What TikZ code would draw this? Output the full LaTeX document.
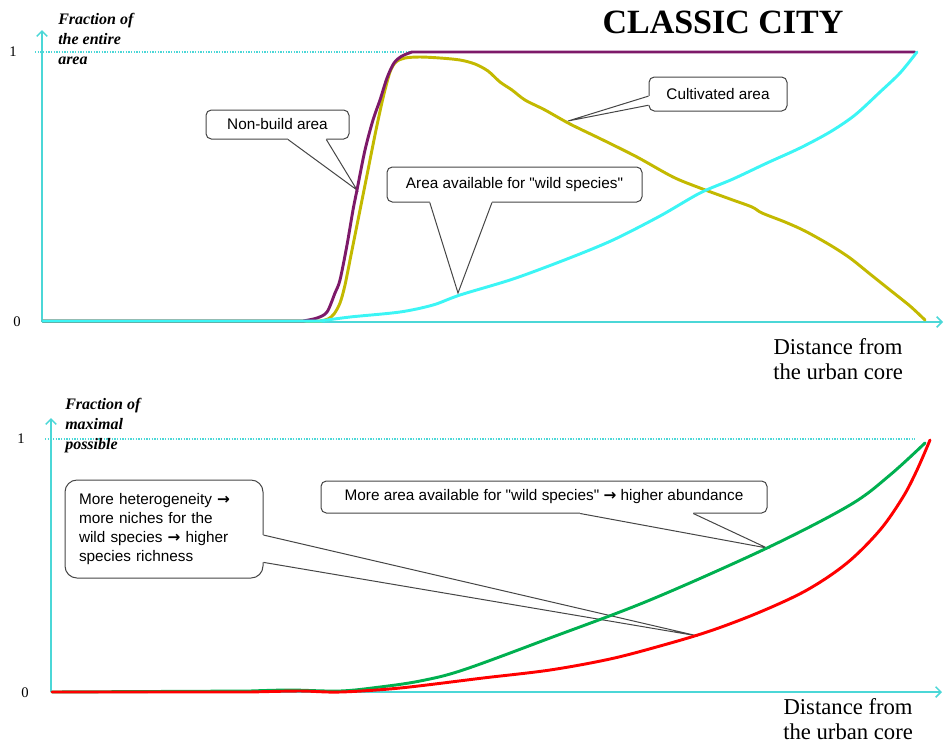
\documentclass[tikz,border=0pt]{standalone}
\usepackage{fontspec}
\setmainfont{Liberation Serif}
\newfontfamily\calloutfont{Liberation Sans}
\newfontfamily\arrowfont{DejaVu Sans}
\newcommand{\barrow}{{\arrowfont\bfseries →}}
\usetikzlibrary{arrows.meta,calc}
\definecolor{axisc}{RGB}{75,215,215}
\definecolor{cyanc}{RGB}{60,245,245}
\definecolor{purplec}{RGB}{125,25,105}
\definecolor{yellowc}{RGB}{195,185,0}
\definecolor{greenc}{RGB}{0,176,80}
\definecolor{redc}{RGB}{255,0,0}
\definecolor{boxc}{RGB}{70,70,70}
\begin{document}
\begin{tikzpicture}[x=0.75pt,y=-0.75pt,
  axisline/.style={draw=axisc, line width=1.1pt, -{Straight Barb[length=4pt,width=8pt]}},
  guide/.style={draw=axisc, line width=0.9pt, dash pattern=on 1pt off 1pt},
  callout/.style={draw=boxc, fill=white, line width=0.75pt, rounded corners=4pt, inner sep=0pt,
    font=\calloutfont\fontsize{11.5}{14.25}\selectfont, align=center},
  pointer/.style={draw=boxc, line width=0.75pt},
  curve/.style={line width=2.2pt, line join=round, line cap=round},
  axlabel/.style={font=\bfseries\itshape\fontsize{12}{15}\selectfont, align=left, anchor=north west, inner sep=0pt},
  distlabel/.style={font=\fontsize{17}{19}\selectfont, align=center, anchor=north west, inner sep=0pt},
  ticklabel/.style={font=\fontsize{11}{13}\selectfont, inner sep=0pt}
]
\useasboundingbox (0,0) rectangle (945,744);

% ---------- title ----------
\node[font=\bfseries\fontsize{25.5}{30}\selectfont, anchor=base] (title) at (723,33) {CLASSIC CITY};

% ---------- top chart axes ----------
\coordinate (o1) at (42,322);
\coordinate (y1) at (42,30);
\coordinate (x1) at (943,322);
\coordinate (g1a) at (35,52);
\coordinate (g1b) at (915,52);
\draw[guide] (g1a) -- (g1b);
\draw[axisline] (o1) -- (y1);
\draw[axisline] (o1) -- (x1);
\node[ticklabel] (one1) at (13,52) {1};
\node[ticklabel] (zero1) at (17,322) {0};
\node[axlabel] (ylab1) at (58,13) {Fraction of\\the entire\\area};
\node[distlabel] (xlab1) at (773,338) {Distance from\\the urban core};

% ---------- top callouts ----------
\node[callout, minimum width=107.25pt, minimum height=21.75pt] (nb) at (277.5,124.5) {Non-build area};
\coordinate (nbA) at ($(nb.south west)!0.573!(nb.south east)$);
\coordinate (nbB) at ($(nb.south west)!0.839!(nb.south east)$);
\coordinate (nbT) at (357,190);
\fill[white] ([yshift=1.2pt]nbA) -- (nbA) -- (nbT) -- (nbB) -- ([yshift=1.2pt]nbB) -- cycle;
\draw[pointer] (nbA) -- (nbT) -- (nbB);

\node[callout, minimum width=191.25pt, minimum height=26.25pt] (aw) at (514.5,184.5) {Area available for "wild species"};
\coordinate (awA) at ($(aw.south west)!0.169!(aw.south east)$);
\coordinate (awB) at ($(aw.south west)!0.412!(aw.south east)$);
\coordinate (awT) at (458,293);
\fill[white] ([yshift=1.2pt]awA) -- (awA) -- (awT) -- (awB) -- ([yshift=1.2pt]awB) -- cycle;
\draw[pointer] (awA) -- (awT) -- (awB);

\node[callout, minimum width=103.5pt, minimum height=25.5pt] (cu) at (718,94) {Cultivated area};
\coordinate (cuA) at ($(cu.north west)!0.56!(cu.south west)$);
\coordinate (cuB) at ($(cu.north west)!0.82!(cu.south west)$);
\coordinate (cuT) at (568,121);
\fill[white] ([xshift=1.2pt]cuA) -- (cuA) -- (cuT) -- (cuB) -- ([xshift=1.2pt]cuB) -- cycle;
\draw[pointer] (cuA) -- (cuT) -- (cuB);

% ---------- top curves ----------
\draw[curve, draw=yellowc] (43,321) -- (320,321) -- plot[smooth, tension=0.5] coordinates {
 (320,321) (328,319) (334,314) (340,303) (345,285) (352,250) (360,210) (368,170) (376,130)
 (383,98) (390,72) (396,62) (405,58) (420,57) (440,58) (460,60) (475,64) (488,71) (500,82)
 (512,90) (525,100) (545,110) (570,124) (603,140) (637,157) (673,177) (700,188) (730,199)
 (752,207) (762,213) (785,222) (805,231) (830,245) (850,258) (870,274) (890,290) (910,306) (925,320)};
\draw[curve, draw=purplec] (43,321) -- (303,321) -- plot[smooth, tension=0.5] coordinates {
 (303,321) (317,318) (327,312) (335,293) (340,280) (347,245) (353,210) (357,190) (365,150)
 (373,120) (380,100) (387,78) (394,63) (402,56) (412,52)} -- (915,52);
\draw[curve, draw=cyanc] (43,321) -- (320,321) -- plot[smooth, tension=0.5] coordinates {
 (320,321) (350,317) (400,312) (433,305) (460,295) (513,279) (567,259) (613,240) (660,216)
 (700,193) (733,179) (767,163) (800,148) (830,132) (855,115) (880,92) (900,73) (917,52)};

% ---------- bottom chart axes ----------
\coordinate (o2) at (51,692);
\coordinate (y2) at (51,418);
\coordinate (x2) at (942,692);
\coordinate (g2a) at (45,439);
\coordinate (g2b) at (915,439);
\draw[guide] (g2a) -- (g2b);
\draw[axisline] (o2) -- (y2);
\draw[axisline] (o2) -- (x2);
\node[ticklabel] (one2) at (21,439) {1};
\node[ticklabel] (zero2) at (25,693) {0};
\node[axlabel] (ylab2) at (65,398) {Fraction of\\maximal\\possible};
\node[distlabel] (xlab2) at (783,698) {Distance from\\the urban core};

% ---------- bottom callouts ----------
\node[callout, rounded corners=9pt, align=left, text width=127.5pt, minimum width=148.5pt, minimum height=73.5pt] (he) at (164,529)
 {More heterogeneity \barrow\\more niches for the\\wild species \barrow\ higher\\species richness};
\coordinate (heA) at ($(he.north east)!0.561!(he.south east)$);
\coordinate (heB) at ($(he.north east)!0.837!(he.south east)$);
\coordinate (heT) at (698,636);
\fill[white] ([xshift=-1.2pt]heA) -- (heA) -- (heT) -- (heB) -- ([xshift=-1.2pt]heB) -- cycle;
\draw[pointer] (heA) -- (heT) -- (heB);

\node[callout, minimum width=334.5pt, minimum height=24pt] (ma) at (544,497)
 {More area available for "wild species" \barrow\ higher abundance};
\coordinate (maA) at ($(ma.south west)!0.581!(ma.south east)$);
\coordinate (maB) at ($(ma.south west)!0.834!(ma.south east)$);
\coordinate (maT) at (767,548);
\fill[white] ([yshift=1.2pt]maA) -- (maA) -- (maT) -- (maB) -- ([yshift=1.2pt]maB) -- cycle;
\draw[pointer] (maA) -- (maT) -- (maB);

% ---------- bottom curves ----------
\draw[curve, draw=greenc] (52,692) -- (250,691) -- plot[smooth, tension=0.55] coordinates {
 (250,691) (290,690) (340,691) (380,687) (420,681) (463,670) (550,638) (650,600) (767,548)
 (850,505) (890,475) (925,443)};
\draw[curve, draw=redc] (52,692) -- (250,692) -- plot[smooth, tension=0.55] coordinates {
 (250,692) (300,691) (340,692) (400,688) (483,678) (550,670) (610,659) (660,646) (710,631)
 (760,612) (807,590) (847,563) (880,530) (903,497) (917,470) (930,440)};
\end{tikzpicture}
\end{document}
